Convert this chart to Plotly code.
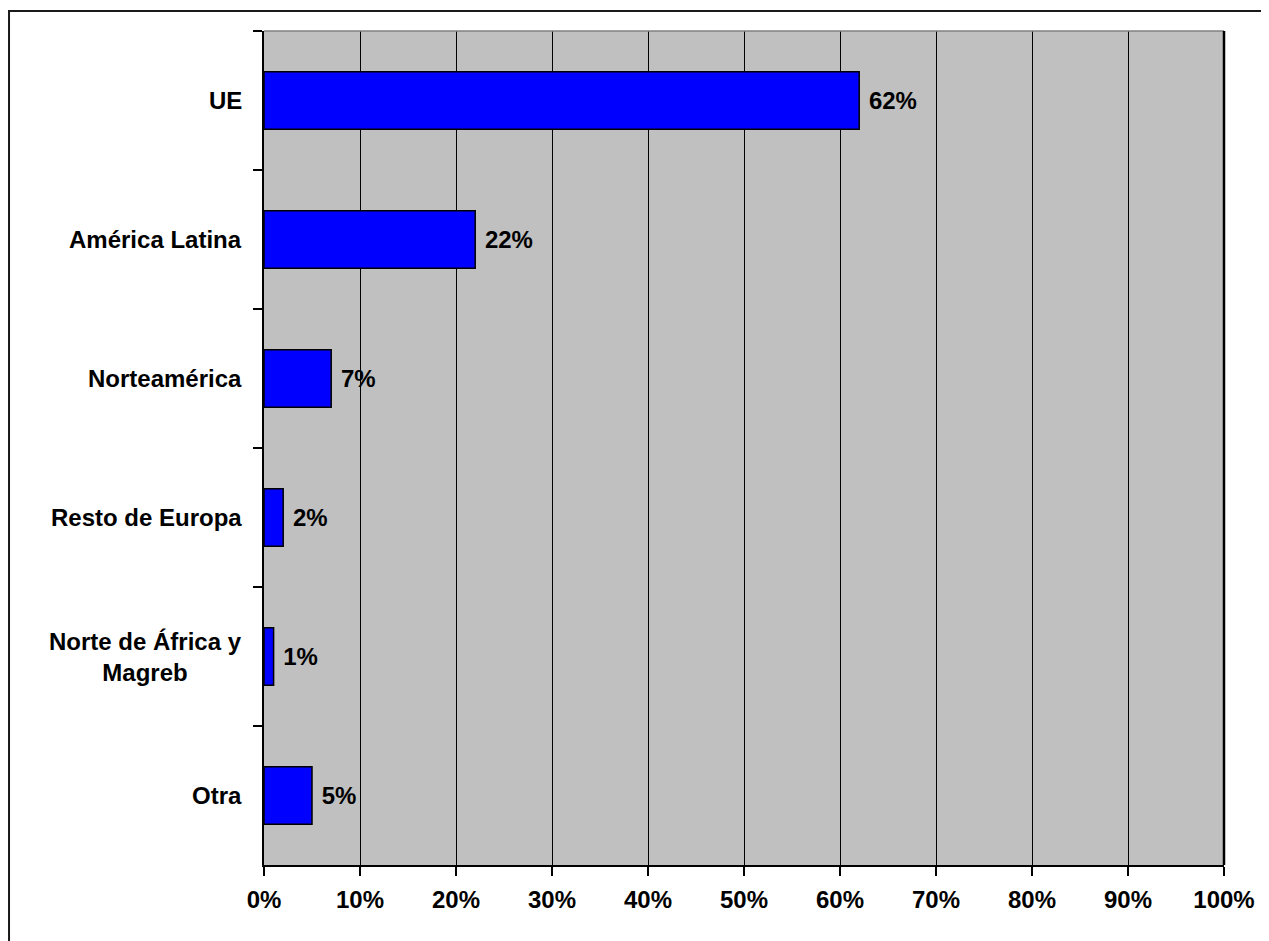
import plotly.graph_objects as go

# datos de la figura (porcentaje por región de origen)
regiones = ["UE", "América Latina", "Norteamérica", "Resto de Europa",
            "Norte de África y<br>Magreb", "Otra"]
porcentajes = [62, 22, 7, 2, 1, 5]
ticks_x = [0, 10, 20, 30, 40, 50, 60, 70, 80, 90, 100]

FUENTE = dict(family="Arial, Liberation Sans", size=24, color="black", weight="bold")

fig = go.Figure()

fig.add_trace(go.Bar(
    x=porcentajes,
    y=regiones,
    orientation="h",
    marker=dict(color="#0000FF", line=dict(color="black", width=1.5)),
    texttemplate="\u00a0%{x}%",
    textposition="outside",
    textfont=FUENTE,
    constraintext="none",
    cliponaxis=False,
    width=0.415,
    hoverinfo="skip",
))

# etiquetas de categoría centradas (multilínea)
anotaciones = []
for reg in regiones:
    anotaciones.append(dict(
        text=reg, x=0, xref="paper", y=reg, yref="y",
        xanchor="right", yanchor="middle", xshift=-20,
        align="center", showarrow=False, font=FUENTE,
    ))

formas = [
    # marco exterior
    dict(type="rect", xref="paper", yref="paper",
         x0=-0.2656, x1=1.08, y0=-0.15, y1=1.024,
         line=dict(color="#1a1a1a", width=2), layer="above"),
    # borde superior gris y derecho negro del área de trazado
    dict(type="line", xref="paper", yref="paper", x0=0, x1=1, y0=1, y1=1,
         line=dict(color="#808080", width=1.5), layer="above"),
    dict(type="line", xref="paper", yref="paper", x0=1, x1=1, y0=0, y1=1,
         line=dict(color="black", width=2.5), layer="above"),
]

fig.update_layout(
    width=1261,
    height=933,
    margin=dict(l=256, r=45, t=23, b=76),
    paper_bgcolor="white",
    plot_bgcolor="#C0C0C0",
    showlegend=False,
    font=FUENTE,
    annotations=anotaciones,
    shapes=formas,
    xaxis=dict(
        range=[0, 100],
        tickvals=ticks_x,
        ticktext=[f"{t}%" for t in ticks_x],
        showgrid=True, gridcolor="black", gridwidth=1,
        zeroline=False,
        showline=True, linecolor="black", linewidth=2,
        ticks="outside", ticklen=9, tickwidth=1.5, tickcolor="black",
        ticklabelstandoff=3,
        tickfont=FUENTE,
        fixedrange=True,
    ),
    yaxis=dict(
        categoryorder="array",
        categoryarray=regiones,
        autorange="reversed",
        showticklabels=False,
        tickson="boundaries",
        ticks="outside", ticklen=9, tickwidth=1.5, tickcolor="black",
        showgrid=False,
        zeroline=False,
        showline=True, linecolor="black", linewidth=2,
        fixedrange=True,
    ),
    bargap=0.585,
)

fig.write_html("out.html")
